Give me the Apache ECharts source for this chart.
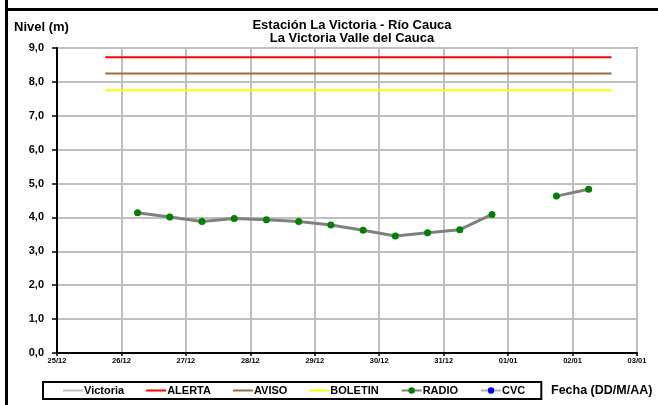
<!DOCTYPE html>
<html>
<head>
<meta charset="utf-8">
<script src="https://cdn.jsdelivr.net/npm/echarts@6/dist/echarts.min.js"></script>
<style>
html,body{margin:0;padding:0;background:#fff;}
#chart{width:658px;height:405px;}
</style>
</head>
<body>
<div id="chart"></div>
<script>
// ---- data ----
var startDate = '2023-12-25 00:00';
var xTickLabels = ['25/12','26/12','27/12','28/12','29/12','30/12','31/12','01/01','02/01','03/01'];
var yTickLabels = ['0,0','1,0','2,0','3,0','4,0','5,0','6,0','7,0','8,0','9,0'];
var radioTimes = ['2023-12-26 06:00','2023-12-26 18:00','2023-12-27 06:00','2023-12-27 18:00',
  '2023-12-28 06:00','2023-12-28 18:00','2023-12-29 06:00','2023-12-29 18:00',
  '2023-12-30 06:00','2023-12-30 18:00','2023-12-31 06:00','2023-12-31 18:00',
  '2024-01-01 06:00','2024-01-01 18:00','2024-01-02 06:00'];
var radioValues = [4.14,4.01,3.88,3.97,3.93,3.88,3.78,3.62,3.45,3.55,3.64,4.09,null,4.63,4.83];
var victoriaTimes = [];
var victoriaValues = [];
var cvcTimes = [];
var cvcValues = [];
var thresholdStart = '2023-12-25 18:00';
var thresholdEnd = '2024-01-02 14:30';
var alertaValue = 8.73;
var avisoValue = 8.25;
var boletinValue = 7.75;

// ---- helpers ----
function dayOffset(s){
  var p = s.split(/[- :]/).map(Number);
  var p0 = startDate.split(/[- :]/).map(Number);
  var t = Date.UTC(p[0],p[1]-1,p[2],p[3],p[4]);
  var t0 = Date.UTC(p0[0],p0[1]-1,p0[2],p0[3],p0[4]);
  return (t - t0) / 86400000;
}
function pairs(times, vals){
  return times.map(function(t,i){ return [dayOffset(t), vals[i] == null ? '-' : vals[i]]; });
}
function hline(v){ return [[dayOffset(thresholdStart), v],[dayOffset(thresholdEnd), v]]; }

var FONT = 'Liberation Sans, Arial, sans-serif';
var LINE_ICON = 'path://M0,0L0,0M0,3L20,3L20,5L0,5ZM20,8L20,8';
var chart = echarts.init(document.getElementById('chart'), null, {renderer:'canvas'});
chart.setOption({
  animation:false,
  backgroundColor:'#fff',
  title:{
    text:'Estación La Victoria - Río Cauca\nLa Victoria Valle del Cauca',
    left:347, top:14, textAlign:'center',
    textStyle:{fontFamily:FONT,fontSize:13,fontWeight:'bold',color:'#000',lineHeight:13}
  },
  grid:{left:57,right:21,top:48,bottom:52,show:true,borderColor:'#808080',borderWidth:2,backgroundColor:'transparent'},
  xAxis:{
    type:'value', min:0, max:9, interval:1,
    axisLine:{lineStyle:{color:'#000',width:2}},
    axisTick:{show:true,length:3,lineStyle:{color:'#000',width:1.5}},
    splitLine:{show:true,lineStyle:{color:'#c0c0c0',width:2}},
    axisLabel:{fontFamily:FONT,fontSize:7.5,fontWeight:'bold',color:'#000',margin:4,
      formatter:function(v){ return xTickLabels[Math.round(v)]; }}
  },
  yAxis:{
    type:'value', min:0, max:9, interval:1,
    axisLine:{show:true,lineStyle:{color:'#000',width:2}},
    axisTick:{show:true,length:5,lineStyle:{color:'#000',width:1.5}},
    splitLine:{show:true,lineStyle:{color:'#c0c0c0',width:2}},
    axisLabel:{fontFamily:FONT,fontSize:11,fontWeight:'bold',color:'#000',margin:13,
      formatter:function(v){ return yTickLabels[Math.round(v)]; }}
  },
  legend:{
    left:43, top:382, width:499, height:16,
    borderColor:'#000', borderWidth:2, padding:[3,16,3,20],
    itemWidth:20, itemHeight:8, itemGap:22,
    textStyle:{fontFamily:FONT,fontSize:11,fontWeight:'bold',color:'#000',padding:[0,0,0,-4]},
    data:[{name:'Victoria',icon:LINE_ICON},{name:'ALERTA',icon:LINE_ICON},{name:'AVISO',icon:LINE_ICON},
      {name:'BOLETIN',icon:LINE_ICON},'RADIO','CVC']
  },
  graphic:[
    {type:'line',shape:{x1:6.5,y1:0,x2:6.5,y2:405},style:{stroke:'#000',lineWidth:3}},
    {type:'line',shape:{x1:5,y1:9.5,x2:658,y2:9.5},style:{stroke:'#000',lineWidth:3}},
    {type:'text',left:14,top:21,style:{text:'Nivel (m)',font:'bold 13px '+FONT,fill:'#000'}},
    {type:'text',left:551,top:384,style:{text:'Fecha (DD/M/AA)',font:'bold 12.5px '+FONT,fill:'#000'}}
  ],
  series:[
    {name:'Victoria',type:'line',data:pairs(victoriaTimes,victoriaValues),symbol:'none',
      lineStyle:{color:'#c0c0c0',width:2},itemStyle:{color:'#c0c0c0'}},
    {name:'ALERTA',type:'line',data:hline(alertaValue),symbol:'none',
      lineStyle:{color:'#ff0000',width:2},itemStyle:{color:'#ff0000'}},
    {name:'AVISO',type:'line',data:hline(avisoValue),symbol:'none',
      lineStyle:{color:'#9c6b3f',width:2},itemStyle:{color:'#9c6b3f'}},
    {name:'BOLETIN',type:'line',data:hline(boletinValue),symbol:'none',
      lineStyle:{color:'#ffff00',width:2},itemStyle:{color:'#ffff00'}},
    {name:'RADIO',type:'line',data:pairs(radioTimes,radioValues),symbol:'circle',symbolSize:7,
      connectNulls:false,
      lineStyle:{color:'#808080',width:3},itemStyle:{color:'#008000',borderWidth:0}},
    {name:'CVC',type:'line',data:pairs(cvcTimes,cvcValues),symbol:'circle',symbolSize:7,
      lineStyle:{color:'#b0b0b0',width:3},itemStyle:{color:'#0000ff',borderWidth:0}}
  ]
});
</script>
</body>
</html>
